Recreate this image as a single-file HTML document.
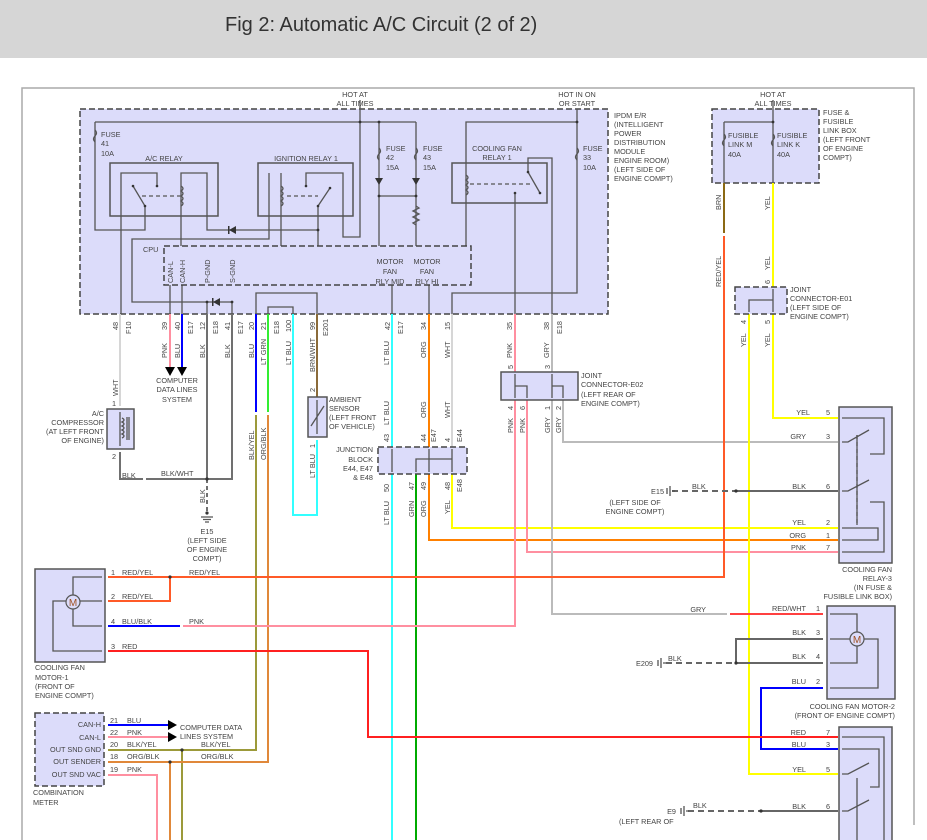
<!DOCTYPE html>
<html><head><meta charset="utf-8"><style>
html,body{margin:0;padding:0;background:#fff;}
svg{display:block;font-family:"Liberation Sans",Arial,sans-serif;}
.t{font-size:7.3px;fill:#444;}
.w{fill:none;stroke-width:2;}
.k{fill:none;stroke:#555;stroke-width:1.3;}
.bx{fill:#dcdcfa;stroke:#555;stroke-width:1.5;}
.dbx{fill:#dcdcfa;stroke:#444;stroke-width:1.5;stroke-dasharray:6,3;}
</style></head><body>
<svg width="927" height="840" viewBox="0 0 927 840">
<rect x="0" y="0" width="927" height="58" fill="#d6d6d6"/>
<text x="225" y="31" font-size="20" fill="#333">Fig 2: Automatic A/C Circuit (2 of 2)</text>
<path d="M22,840 V88 H914 V825" fill="none" stroke="#aaa" stroke-width="1.5"/>

<!-- IPDM -->
<rect class="dbx" x="80" y="109" width="528" height="205"/>
<text class="t" x="614" y="118">IPDM E/R</text>
<text class="t" x="614" y="127">(INTELLIGENT</text>
<text class="t" x="614" y="136">POWER</text>
<text class="t" x="614" y="145">DISTRIBUTION</text>
<text class="t" x="614" y="154">MODULE</text>
<text class="t" x="614" y="163">ENGINE ROOM)</text>
<text class="t" x="614" y="172">(LEFT SIDE OF</text>
<text class="t" x="614" y="181">ENGINE COMPT)</text>
<text class="t" x="355" y="97" text-anchor="middle">HOT AT</text>
<text class="t" x="355" y="106" text-anchor="middle">ALL TIMES</text>
<text class="t" x="577" y="97" text-anchor="middle">HOT IN ON</text>
<text class="t" x="577" y="106" text-anchor="middle">OR START</text>
<rect class="bx" x="110" y="163" width="108" height="53"/>
<rect class="bx" x="258" y="163" width="95" height="53"/>
<rect class="bx" x="452" y="163" width="95" height="40"/>
<text class="t" x="164" y="161" text-anchor="middle">A/C RELAY</text>
<text class="t" x="306" y="161" text-anchor="middle">IGNITION RELAY 1</text>
<text class="t" x="497" y="151" text-anchor="middle">COOLING FAN</text>
<text class="t" x="497" y="160" text-anchor="middle">RELAY 1</text>
<g class="k">
<path d="M95,122 H416 M360,100 V237 H343 V173 H306 V186"/>
<path d="M95,122 V230 H145 V206 L133,186"/>
<path d="M121,314 V173 H157 V186"/>
<path d="M181,246 V173 H207 V230 H318 M318,246 V206 L330,188"/>
<path d="M281,246 V173 M269,173 V239 H132 V302 H232 V314 M207,302 V314"/>
<path d="M379,122 V246 M416,122 V246 M379,196 H416"/>
<path d="M466,246 V122 H577 M577,109 V293 H452 V314 M528,172 V158 H552 V314 M515,193 V314 M528,172 L540,193"/>
<path d="M256,314 V293 H317 V314 M268,314 V307 H293 V314"/>
<path d="M170,285 V314 M182,285 V314 M392,285 V314 M429,285 V314"/>
<path d="M142,196 H181 M287,196 H318 M470,184 H530" stroke-dasharray="4,3"/>
<path d="M181,186 q4,2.5 0,5 q4,2.5 0,5 q4,2.5 0,5 q4,2.5 0,5 M281,186 q4,2.5 0,5 q4,2.5 0,5 q4,2.5 0,5 q4,2.5 0,5 M466,175 q4,2.5 0,5 q4,2.5 0,5 q4,2.5 0,5 q4,2.5 0,5"/>
<path d="M416,206 l3,2 -6,3 6,3 -6,3 6,3 -6,3 3,2"/>
<path d="M95,130 q3,3 0,6 q-3,3 0,6 M379,148 q3,3 0,6 q-3,3 0,6 M416,148 q3,3 0,6 q-3,3 0,6 M577,148 q3,3 0,6 q-3,3 0,6"/>
</g>
<g fill="#333">
<polygon points="375,178 383,178 379,185"/><polygon points="412,178 420,178 416,185"/>
<polygon points="229,230 236,226 236,234"/><polygon points="213,302 220,298 220,306"/>
<rect x="228" y="226" width="1.5" height="8"/><rect x="212" y="298" width="1.5" height="8"/>
<circle cx="360" cy="122" r="1.4"/><circle cx="379" cy="122" r="1.4"/><circle cx="379" cy="196" r="1.4"/><circle cx="416" cy="196" r="1.4"/><circle cx="577" cy="122" r="1.4"/><circle cx="318" cy="230" r="1.4"/><circle cx="207" cy="302" r="1.4"/><circle cx="232" cy="302" r="1.4"/>
<circle cx="133" cy="186" r="1.3"/><circle cx="145" cy="206" r="1.3"/><circle cx="157" cy="186" r="1.3"/><circle cx="306" cy="186" r="1.3"/><circle cx="318" cy="206" r="1.3"/><circle cx="330" cy="188" r="1.3"/><circle cx="528" cy="172" r="1.3"/><circle cx="540" cy="193" r="1.3"/><circle cx="515" cy="193" r="1.3"/>
</g>
<text class="t" x="101" y="137">FUSE</text><text class="t" x="101" y="146">41</text><text class="t" x="101" y="156">10A</text>
<text class="t" x="386" y="151">FUSE</text><text class="t" x="386" y="160">42</text><text class="t" x="386" y="170">15A</text>
<text class="t" x="423" y="151">FUSE</text><text class="t" x="423" y="160">43</text><text class="t" x="423" y="170">15A</text>
<text class="t" x="583" y="151">FUSE</text><text class="t" x="583" y="160">33</text><text class="t" x="583" y="170">10A</text>
<rect class="dbx" x="164" y="246" width="307" height="39"/>
<text class="t" x="143" y="252">CPU</text>
<g class="t">
<text transform="translate(173,283) rotate(-90)">CAN-L</text>
<text transform="translate(185,283) rotate(-90)">CAN-H</text>
<text transform="translate(210,283) rotate(-90)">P-GND</text>
<text transform="translate(235,283) rotate(-90)">S-GND</text>
</g>
<text class="t" x="390" y="264" text-anchor="middle">MOTOR</text><text class="t" x="390" y="274" text-anchor="middle">FAN</text><text class="t" x="390" y="284" text-anchor="middle">RLY MID</text>
<text class="t" x="427" y="264" text-anchor="middle">MOTOR</text><text class="t" x="427" y="274" text-anchor="middle">FAN</text><text class="t" x="427" y="284" text-anchor="middle">RLY HI</text>

<!-- pin numbers / codes -->
<g class="t">
<text transform="translate(118,330) rotate(-90)">48</text><text transform="translate(131,334) rotate(-90)">F10</text>
<text transform="translate(167,330) rotate(-90)">39</text>
<text transform="translate(180,330) rotate(-90)">40</text><text transform="translate(193,334) rotate(-90)">E17</text>
<text transform="translate(205,330) rotate(-90)">12</text><text transform="translate(218,334) rotate(-90)">E18</text>
<text transform="translate(230,330) rotate(-90)">41</text><text transform="translate(243,334) rotate(-90)">E17</text>
<text transform="translate(254,330) rotate(-90)">20</text>
<text transform="translate(266,330) rotate(-90)">21</text><text transform="translate(279,334) rotate(-90)">E18</text>
<text transform="translate(291,332) rotate(-90)">100</text>
<text transform="translate(315,330) rotate(-90)">99</text><text transform="translate(328,336) rotate(-90)">E201</text>
<text transform="translate(390,330) rotate(-90)">42</text><text transform="translate(403,334) rotate(-90)">E17</text>
<text transform="translate(426,330) rotate(-90)">34</text>
<text transform="translate(450,330) rotate(-90)">15</text>
<text transform="translate(512,330) rotate(-90)">35</text>
<text transform="translate(549,330) rotate(-90)">38</text><text transform="translate(562,334) rotate(-90)">E18</text>
<text transform="translate(167,358) rotate(-90)">PNK</text>
<text transform="translate(180,358) rotate(-90)">BLU</text>
<text transform="translate(205,358) rotate(-90)">BLK</text>
<text transform="translate(230,358) rotate(-90)">BLK</text>
<text transform="translate(254,358) rotate(-90)">BLU</text>
<text transform="translate(266,365) rotate(-90)">LT GRN</text>
<text transform="translate(291,365) rotate(-90)">LT BLU</text>
<text transform="translate(315,372) rotate(-90)">BRN/WHT</text>
<text transform="translate(389,365) rotate(-90)">LT BLU</text>
<text transform="translate(426,358) rotate(-90)">ORG</text>
<text transform="translate(450,358) rotate(-90)">WHT</text>
<text transform="translate(512,358) rotate(-90)">PNK</text>
<text transform="translate(549,358) rotate(-90)">GRY</text>
</g>

<!-- Wires -->
<path class="w" stroke="#d6d6d6" d="M120,314 V406"/>
<path class="w" stroke="#ff8fa0" d="M170,314 V368"/>
<path class="w" stroke="#0000ff" d="M182,314 V368"/>
<polygon points="165,367 175,367 170,376" fill="#000"/><polygon points="177,367 187,367 182,376" fill="#000"/>
<text class="t" x="177" y="383" text-anchor="middle">COMPUTER</text><text class="t" x="177" y="392" text-anchor="middle">DATA LINES</text><text class="t" x="177" y="402" text-anchor="middle">SYSTEM</text>
<path class="w" stroke="#707070" d="M207,314 V479 M232,314 V479 H146 M120,452 V479 H143"/>
<path class="w" stroke="#707070" d="M207,479 V512" stroke-dasharray="4,3"/>
<path class="k" d="M201,517 H213 M203,519.5 H211 M205,522 H209"/>
<circle cx="207" cy="479" r="1.6" fill="#333"/><circle cx="207" cy="513" r="1.6" fill="#333"/>
<text class="t" x="122" y="478">BLK</text><text class="t" x="161" y="476">BLK/WHT</text>
<text class="t" transform="translate(205,503) rotate(-90)">BLK</text>
<text class="t" x="207" y="534" text-anchor="middle">E15</text><text class="t" x="207" y="543" text-anchor="middle">(LEFT SIDE</text><text class="t" x="207" y="552" text-anchor="middle">OF ENGINE</text><text class="t" x="207" y="561" text-anchor="middle">COMPT)</text>
<!-- compressor -->
<rect class="bx" x="107" y="409" width="27" height="40"/>
<path class="k" d="M120,412 V446 M122,418 q4,2 0,4 q4,2 0,4 q4,2 0,4 q4,2 0,4 q4,2 0,4 M127,417 V440 M129,417 V440"/>
<text class="t" transform="translate(118,396) rotate(-90)">WHT</text>
<text class="t" x="104" y="416" text-anchor="end">A/C</text><text class="t" x="104" y="425" text-anchor="end">COMPRESSOR</text><text class="t" x="104" y="434" text-anchor="end">(AT LEFT FRONT</text><text class="t" x="104" y="443" text-anchor="end">OF ENGINE)</text>
<text class="t" x="112" y="406">1</text><text class="t" x="112" y="459">2</text>

<path class="w" stroke="#0000ff" d="M256,314 V412"/>
<path class="w" stroke="#33ee33" d="M268,314 V412"/>
<path class="w" stroke="#9c9a3a" d="M256,415 V750 H108 M182,750 V840"/>
<path class="w" stroke="#e0883a" d="M268,415 V762 H108 M170,762 V840"/>
<text class="t" transform="translate(254,460) rotate(-90)">BLK/YEL</text>
<text class="t" transform="translate(266,460) rotate(-90)">ORG/BLK</text>
<path class="w" stroke="#33ffff" d="M293,314 V515 H317 V440"/>
<path class="w" stroke="#8b6b3a" d="M317,314 V397"/>
<rect class="bx" x="308" y="397" width="19" height="40"/>
<path class="k" d="M317,400 V434 M311,426 L324,406"/>
<text class="t" x="329" y="402">AMBIENT</text><text class="t" x="329" y="411">SENSOR</text><text class="t" x="329" y="420">(LEFT FRONT</text><text class="t" x="329" y="429">OF VEHICLE)</text>
<text class="t" transform="translate(315,392) rotate(-90)">2</text>
<text class="t" transform="translate(315,448) rotate(-90)">1</text>
<text class="t" transform="translate(315,478) rotate(-90)">LT BLU</text>

<!-- junction block -->
<path class="w" stroke="#33ffff" d="M392,314 V840"/>
<path class="w" stroke="#ff8000" d="M429,314 V540 H838"/>
<path class="w" stroke="#d6d6d6" d="M452,314 V447"/>
<path class="w" stroke="#ffff00" d="M452,474 V528 H838"/>
<path class="w" stroke="#00aa00" d="M416,474 V840"/>
<rect class="dbx" x="378" y="447" width="89" height="27"/>
<path class="k" d="M392,449 V472 M429,449 V472 M452,449 V472 M416,472 V459 H452"/>
<text class="t" x="373" y="452" text-anchor="end">JUNCTION</text><text class="t" x="373" y="462" text-anchor="end">BLOCK</text><text class="t" x="373" y="471" text-anchor="end">E44, E47</text><text class="t" x="373" y="480" text-anchor="end">&amp; E48</text>
<g class="t">
<text transform="translate(389,442) rotate(-90)">43</text><text transform="translate(426,442) rotate(-90)">44</text><text transform="translate(436,442) rotate(-90)">E47</text><text transform="translate(450,442) rotate(-90)">4</text><text transform="translate(462,442) rotate(-90)">E44</text>
<text transform="translate(389,492) rotate(-90)">50</text><text transform="translate(414,490) rotate(-90)">47</text><text transform="translate(426,490) rotate(-90)">49</text><text transform="translate(450,490) rotate(-90)">48</text><text transform="translate(462,492) rotate(-90)">E48</text>
<text transform="translate(389,425) rotate(-90)">LT BLU</text><text transform="translate(426,418) rotate(-90)">ORG</text><text transform="translate(450,418) rotate(-90)">WHT</text>
<text transform="translate(389,525) rotate(-90)">LT BLU</text><text transform="translate(414,517) rotate(-90)">GRN</text><text transform="translate(426,517) rotate(-90)">ORG</text><text transform="translate(450,514) rotate(-90)">YEL</text>
</g>

<!-- joint connector E02 -->
<path class="w" stroke="#ff8fa0" d="M515,314 V372 M515,400 V626 H183 M527,400 V552 H838"/>
<path class="w" stroke="#bbbbbb" d="M552,314 V372 M552,400 V614 H727 M563,400 V442 H838"/>
<rect class="bx" x="501" y="372" width="77" height="28"/>
<path class="k" d="M515,374 V398 M515,386 H527 V398 M552,374 V398 M552,386 H563 V398"/>
<text class="t" x="581" y="378">JOINT</text><text class="t" x="581" y="387">CONNECTOR-E02</text><text class="t" x="581" y="397">(LEFT REAR OF</text><text class="t" x="581" y="406">ENGINE COMPT)</text>
<g class="t">
<text transform="translate(513,369) rotate(-90)">5</text><text transform="translate(550,369) rotate(-90)">3</text>
<text transform="translate(513,410) rotate(-90)">4</text><text transform="translate(525,410) rotate(-90)">6</text><text transform="translate(550,410) rotate(-90)">1</text><text transform="translate(561,410) rotate(-90)">2</text>
<text transform="translate(513,433) rotate(-90)">PNK</text><text transform="translate(525,433) rotate(-90)">PNK</text><text transform="translate(550,433) rotate(-90)">GRY</text><text transform="translate(561,433) rotate(-90)">GRY</text>
</g>

<!-- fuse box -->
<rect class="dbx" x="712" y="109" width="107" height="74"/>
<path class="k" d="M773,100 V183 M724,122 H773 M724,122 V183 M724,134 q3,3 0,6 q-3,3 0,6 M773,134 q3,3 0,6 q-3,3 0,6"/>
<circle cx="773" cy="122" r="1.4" fill="#333"/>
<text class="t" x="773" y="97" text-anchor="middle">HOT AT</text><text class="t" x="773" y="106" text-anchor="middle">ALL TIMES</text>
<text class="t" x="728" y="138">FUSIBLE</text><text class="t" x="728" y="147">LINK M</text><text class="t" x="728" y="157">40A</text>
<text class="t" x="777" y="138">FUSIBLE</text><text class="t" x="777" y="147">LINK K</text><text class="t" x="777" y="157">40A</text>
<text class="t" x="823" y="115">FUSE &amp;</text><text class="t" x="823" y="124">FUSIBLE</text><text class="t" x="823" y="133">LINK BOX</text><text class="t" x="823" y="142">(LEFT FRONT</text><text class="t" x="823" y="151">OF ENGINE</text><text class="t" x="823" y="160">COMPT)</text>
<path class="w" stroke="#8b6914" d="M724,183 V233"/>
<path class="w" stroke="#ff5a28" d="M724,236 V577 H108 M108,601 H170 V577"/>
<circle cx="170" cy="577" r="1.6" fill="#333"/>
<path class="w" stroke="#ffff00" d="M773,183 V288 M749,314 V774 H838 M773,314 V418 H838"/>
<text class="t" transform="translate(721,210) rotate(-90)">BRN</text>
<text class="t" transform="translate(721,287) rotate(-90)">RED/YEL</text>
<text class="t" transform="translate(770,210) rotate(-90)">YEL</text>
<text class="t" transform="translate(770,270) rotate(-90)">YEL</text>
<rect class="dbx" x="735" y="287" width="52" height="27"/>
<path class="k" d="M773,289 V312 M773,300 H749 V312"/>
<text class="t" x="790" y="292">JOINT</text><text class="t" x="790" y="301">CONNECTOR-E01</text><text class="t" x="790" y="310">(LEFT SIDE OF</text><text class="t" x="790" y="319">ENGINE COMPT)</text>
<text class="t" transform="translate(770,284) rotate(-90)">6</text>
<text class="t" transform="translate(746,324) rotate(-90)">4</text><text class="t" transform="translate(770,324) rotate(-90)">5</text>
<text class="t" transform="translate(746,347) rotate(-90)">YEL</text><text class="t" transform="translate(770,347) rotate(-90)">YEL</text>

<!-- relay 3 -->
<rect class="bx" x="839" y="407" width="53" height="156"/>
<path class="k" d="M842,418 H884 V454 H870 M842,442 H848 L869,430 M842,491 H848 L869,480 M857,435 V525 M870,502 H884 V552 H842 M842,540 H878 V528 H842" />
<path class="k" d="M857,435 V525" stroke-dasharray="4,3"/>
<text class="t" x="810" y="415" text-anchor="end">YEL</text><text class="t" x="830" y="415" text-anchor="end">5</text>
<text class="t" x="806" y="439" text-anchor="end">GRY</text><text class="t" x="830" y="439" text-anchor="end">3</text>
<text class="t" x="806" y="489" text-anchor="end">BLK</text><text class="t" x="830" y="489" text-anchor="end">6</text>
<text class="t" x="806" y="525" text-anchor="end">YEL</text><text class="t" x="830" y="525" text-anchor="end">2</text>
<text class="t" x="806" y="538" text-anchor="end">ORG</text><text class="t" x="830" y="538" text-anchor="end">1</text>
<text class="t" x="806" y="550" text-anchor="end">PNK</text><text class="t" x="830" y="550" text-anchor="end">7</text>
<text class="t" x="892" y="572" text-anchor="end">COOLING FAN</text><text class="t" x="892" y="581" text-anchor="end">RELAY-3</text><text class="t" x="892" y="590" text-anchor="end">(IN FUSE &amp;</text><text class="t" x="892" y="599" text-anchor="end">FUSIBLE LINK BOX)</text>
<path class="w" stroke="#666" d="M672,491 H736" stroke-dasharray="6,4"/><path class="w" stroke="#666" d="M736,491 H838"/>
<circle cx="736" cy="491" r="1.6" fill="#333"/>
<path class="k" d="M670,486 V496 M667,488 V494 M672,491 H675"/>
<text class="t" x="664" y="494" text-anchor="end">E15</text><text class="t" x="692" y="489">BLK</text>
<text class="t" x="635" y="505" text-anchor="middle">(LEFT SIDE OF</text><text class="t" x="635" y="514" text-anchor="middle">ENGINE COMPT)</text>

<!-- motor 2 -->
<path class="w" stroke="#bbbbbb" d="M727,614 H727"/>
<path class="w" stroke="#ff4040" d="M730,614 H823"/>
<path class="w" stroke="#666" d="M736,663 V639 H823 M736,663 H823"/>
<path class="w" stroke="#666" d="M666,663 H736" stroke-dasharray="6,4"/>
<circle cx="736" cy="663" r="1.6" fill="#333"/>
<path class="k" d="M661,658 V668 M658,660 V666 M663,663 H666"/>
<text class="t" x="653" y="666" text-anchor="end">E209</text><text class="t" x="668" y="661">BLK</text>
<path class="w" stroke="#0000ff" d="M823,688 H761 V749 H838"/>
<rect class="bx" x="827" y="606" width="68" height="93"/>
<path class="k" d="M830,614 H857 V632 M830,639 H851 M830,663 H857 V646 M830,688 H878 V639 H864"/>
<circle cx="857" cy="639" r="7" fill="#dcdcfa" stroke="#555" stroke-width="1.2"/>
<text x="857" y="643" font-size="10" text-anchor="middle" fill="#a05020">M</text>
<text class="t" x="806" y="611" text-anchor="end">RED/WHT</text><text class="t" x="820" y="611" text-anchor="end">1</text>
<text class="t" x="806" y="635" text-anchor="end">BLK</text><text class="t" x="820" y="635" text-anchor="end">3</text>
<text class="t" x="806" y="659" text-anchor="end">BLK</text><text class="t" x="820" y="659" text-anchor="end">4</text>
<text class="t" x="806" y="684" text-anchor="end">BLU</text><text class="t" x="820" y="684" text-anchor="end">2</text>
<text class="t" x="706" y="612" text-anchor="end">GRY</text>
<text class="t" x="895" y="709" text-anchor="end">COOLING FAN MOTOR-2</text><text class="t" x="895" y="718" text-anchor="end">(FRONT OF ENGINE COMPT)</text>

<!-- lower relay -->
<path class="w" stroke="#ff2020" d="M108,651 H368 V737 H838"/>
<rect class="bx" x="839" y="727" width="53" height="120"/>
<path class="k" d="M842,737 H884 V840 M842,749 H879 V787 H870 M842,774 H848 L869,763 M842,811 H848 L869,800 M857,778 V840" />
<text class="t" x="806" y="735" text-anchor="end">RED</text><text class="t" x="830" y="735" text-anchor="end">7</text>
<text class="t" x="806" y="747" text-anchor="end">BLU</text><text class="t" x="830" y="747" text-anchor="end">3</text>
<text class="t" x="806" y="772" text-anchor="end">YEL</text><text class="t" x="830" y="772" text-anchor="end">5</text>
<text class="t" x="806" y="809" text-anchor="end">BLK</text><text class="t" x="830" y="809" text-anchor="end">6</text>
<path class="w" stroke="#666" d="M688,811 H761" stroke-dasharray="6,4"/><path class="w" stroke="#666" d="M761,811 H838"/>
<circle cx="761" cy="811" r="1.6" fill="#333"/>
<path class="k" d="M684,806 V816 M681,808 V814 M686,811 H689"/>
<text class="t" x="676" y="814" text-anchor="end">E9</text><text class="t" x="693" y="808">BLK</text>
<text class="t" x="619" y="824">(LEFT REAR OF</text>

<!-- motor 1 -->
<path class="w" stroke="#0000ff" d="M108,626 H180"/>
<rect class="bx" x="35" y="569" width="70" height="93"/>
<path class="k" d="M102,577 H73 V596 M102,601 H80 M102,626 H73 V608 M102,651 H53 V601 H66"/>
<circle cx="73" cy="602" r="7" fill="#dcdcfa" stroke="#555" stroke-width="1.2"/>
<text x="73" y="606" font-size="10" text-anchor="middle" fill="#a05020">M</text>
<text class="t" x="111" y="575">1</text><text class="t" x="122" y="575">RED/YEL</text><text class="t" x="189" y="575">RED/YEL</text>
<text class="t" x="111" y="599">2</text><text class="t" x="122" y="599">RED/YEL</text>
<text class="t" x="111" y="624">4</text><text class="t" x="122" y="624">BLU/BLK</text><text class="t" x="189" y="624">PNK</text>
<text class="t" x="111" y="649">3</text><text class="t" x="122" y="649">RED</text>
<text class="t" x="35" y="670">COOLING FAN</text><text class="t" x="35" y="680">MOTOR-1</text><text class="t" x="35" y="689">(FRONT OF</text><text class="t" x="35" y="698">ENGINE COMPT)</text>

<!-- combination meter -->
<path class="w" stroke="#0000ff" d="M108,725 H168"/>
<path class="w" stroke="#ff8fa0" d="M108,737 H168 M108,775 H157 V840"/>
<polygon points="168,720 177,725 168,730" fill="#000"/><polygon points="168,732 177,737 168,742" fill="#000"/>
<circle cx="182" cy="750" r="1.6" fill="#333"/><circle cx="170" cy="762" r="1.6" fill="#333"/>
<rect class="dbx" x="35" y="713" width="69" height="73"/>
<text class="t" x="101" y="727" text-anchor="end">CAN-H</text><text class="t" x="101" y="740" text-anchor="end">CAN-L</text><text class="t" x="101" y="752" text-anchor="end">OUT SND GND</text><text class="t" x="101" y="764" text-anchor="end">OUT SENDER</text><text class="t" x="101" y="777" text-anchor="end">OUT SND VAC</text>
<text class="t" x="110" y="723">21</text><text class="t" x="127" y="723">BLU</text>
<text class="t" x="110" y="735">22</text><text class="t" x="127" y="735">PNK</text>
<text class="t" x="110" y="747">20</text><text class="t" x="127" y="747">BLK/YEL</text><text class="t" x="201" y="747">BLK/YEL</text>
<text class="t" x="110" y="759">18</text><text class="t" x="127" y="759">ORG/BLK</text><text class="t" x="201" y="759">ORG/BLK</text>
<text class="t" x="110" y="772">19</text><text class="t" x="127" y="772">PNK</text>
<text class="t" x="180" y="730">COMPUTER DATA</text><text class="t" x="180" y="739">LINES SYSTEM</text>
<text class="t" x="33" y="795">COMBINATION</text><text class="t" x="33" y="805">METER</text>
</svg>
</body></html>
